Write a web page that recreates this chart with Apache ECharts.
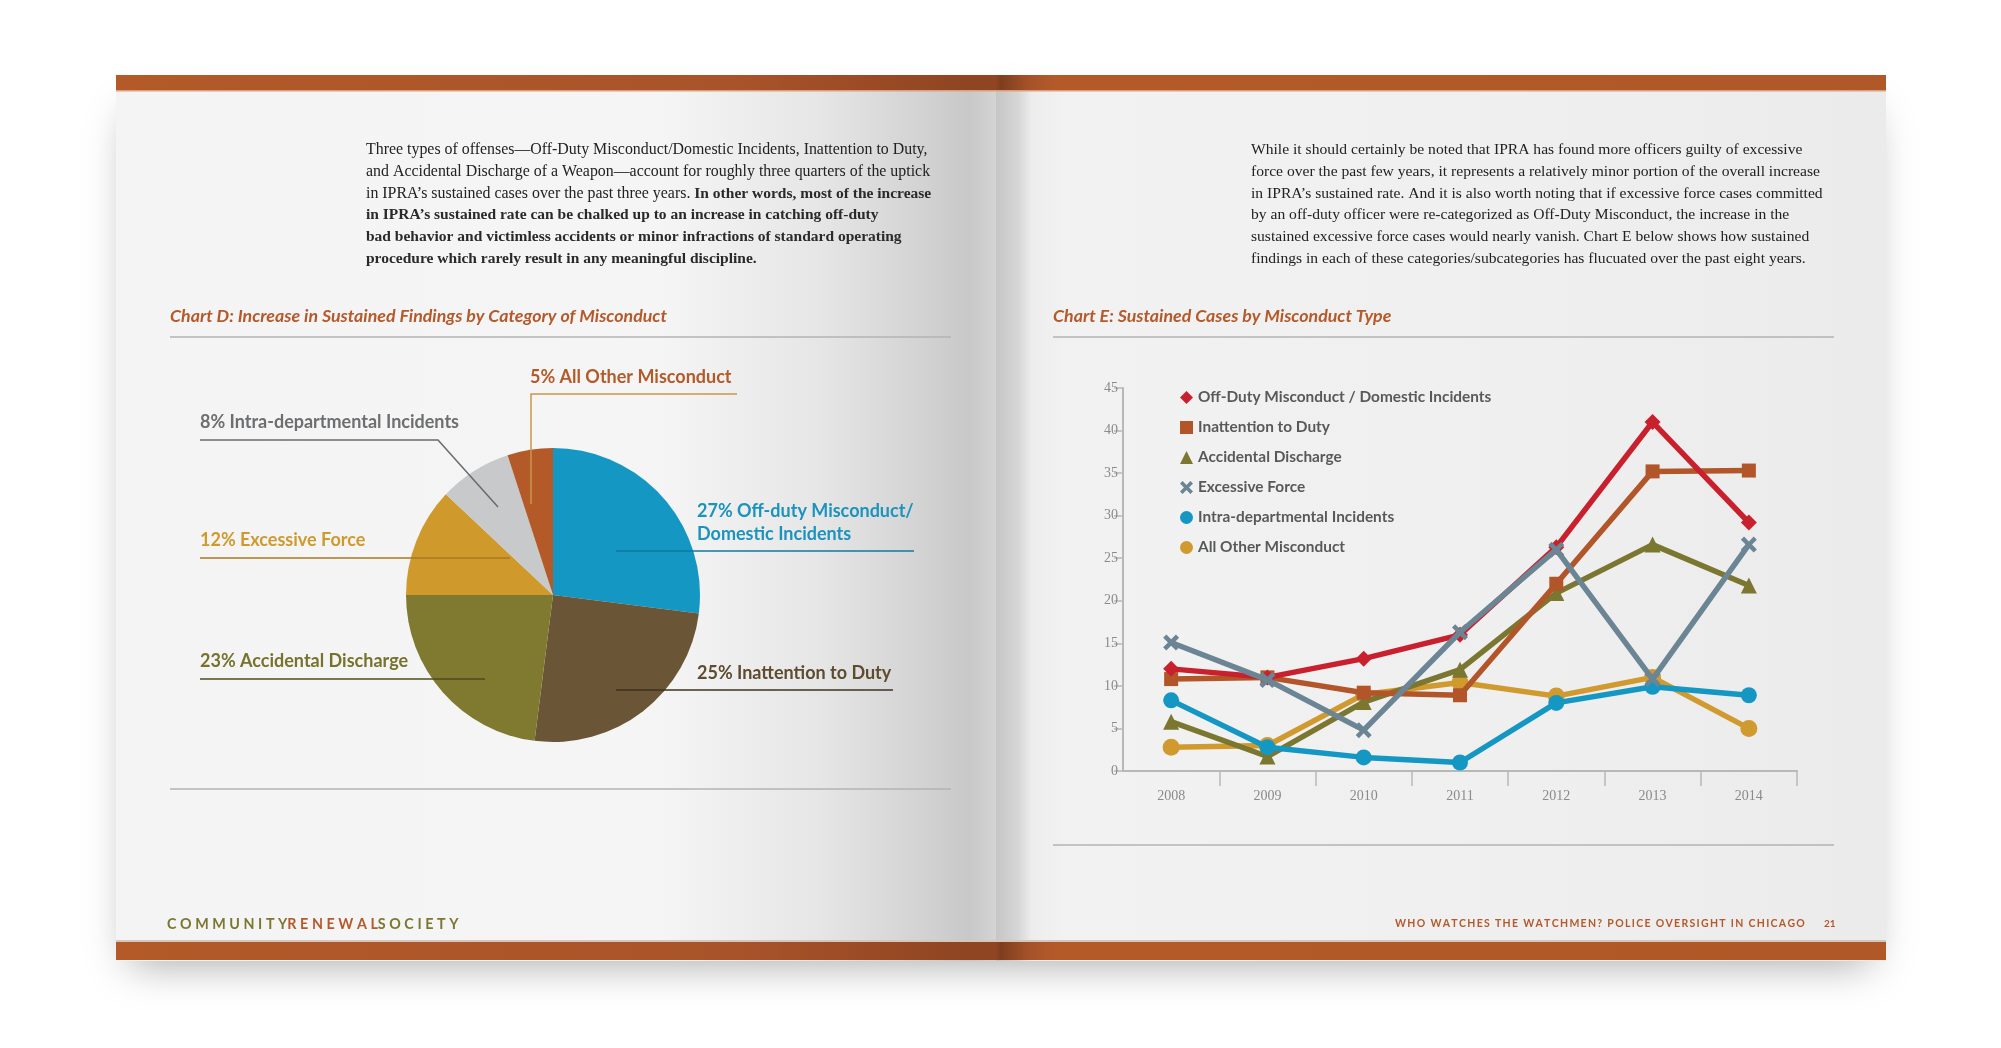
<!DOCTYPE html>
<html>
<head>
<meta charset="utf-8">
<script src="https://cdn.jsdelivr.net/npm/echarts@6/dist/echarts.min.js"></script>
<style>
html,body{margin:0;padding:0;background:#fff;}
#c{width:2001px;height:1048px;}
</style>
</head>
<body>
<div id="c"></div>
<script>
// ---------- DATA ----------
const pieNames = ['Off-duty Misconduct/\nDomestic Incidents', 'Inattention to Duty', 'Accidental Discharge', 'Excessive Force', 'Intra-departmental Incidents', 'All Other Misconduct'];
const pieValues = [27, 25, 23, 12, 8, 5];

const years = ['2008', '2009', '2010', '2011', '2012', '2013', '2014'];
const offDuty = [12, 11, 13.2, 16, 26.3, 41, 29.2];
const inattention = [10.8, 11, 9.2, 8.9, 22, 35.2, 35.3];
const accidental = [5.8, 1.7, 8.1, 11.9, 20.9, 26.6, 21.8];
const excessive = [15.1, 10.7, 4.8, 16.3, 26, 10.8, 26.6];
const intra = [8.3, 2.8, 1.6, 1, 8, 9.9, 8.9];
const allOther = [2.8, 3, 9, 10.4, 8.8, 11, 5];

const lineNames = ['Off-Duty Misconduct / Domestic Incidents', 'Inattention to Duty', 'Accidental Discharge', 'Excessive Force', 'Intra-departmental Incidents', 'All Other Misconduct'];

const leftText = [
  [['n', 'Three types of offenses\u2014Off-Duty Misconduct/Domestic Incidents, Inattention to Duty,']],
  [['n', 'and Accidental Discharge of a Weapon\u2014account for roughly three quarters of the uptick']],
  [['n', 'in IPRA\u2019s sustained cases over the past three years. '], ['b', 'In other words, most of the increase']],
  [['b', 'in IPRA\u2019s sustained rate can be chalked up to an increase in catching off-duty']],
  [['b', 'bad behavior and victimless accidents or minor infractions of standard operating']],
  [['b', 'procedure which rarely result in any meaningful discipline.']]
];
const rightText = [
  'While it should certainly be noted that IPRA has found more officers guilty of excessive',
  'force over the past few years, it represents a relatively minor portion of the overall increase',
  'in IPRA\u2019s sustained rate. And it is also worth noting that if excessive force cases committed',
  'by an off-duty officer were re-categorized as Off-Duty Misconduct, the increase in the',
  'sustained excessive force cases would nearly vanish. Chart E below shows how sustained',
  'findings in each of these categories/subcategories has flucuated over the past eight years.'
];

// ---------- STYLE / LAYOUT ----------
const pieColors = ['#1597c3', '#6a5536', '#7f7a30', '#cf9a2b', '#c8c9ca', '#b35a28'];
const pieLabelColors = ['#1a93bf', '#5e4b30', '#77722c', '#cf9a2b', '#6d6e70', '#b35a28'];
const pieLineColors = ['#10799d', '#3e311f', '#4f4b1c', '#a87a1e', '#6a6a6a', '#c9974a'];
// label anchor (left, bottom) and leader points for each slice
const pieLabelLayout = [
  {x: 697, y: 546, pts: [[616, 551], [765, 551], [914, 551]]},
  {x: 697, y: 685, pts: [[616, 690], [750, 690], [893, 690]]},
  {x: 200, y: 673, pts: [[485, 679], [340, 679], [200, 679]]},
  {x: 200, y: 552, pts: [[510, 558], [355, 558], [200, 558]]},
  {x: 200, y: 434, pts: [[498, 507], [438, 440], [200, 440]]},
  {x: 530, y: 389, pts: [[531, 504], [531, 394], [737, 394]]}
];
const lineColors = ['#c9202e', '#b2562a', '#7b7630', '#6c8594', '#1597c3', '#d09a2e'];
const xPath = 'path://M2,0 L5,3 L8,0 L10,2 L7,5 L10,8 L8,10 L5,7 L2,10 L0,8 L3,5 L0,2 Z';
const lineSymbols = ['diamond', 'rect', 'triangle', xPath, 'circle', 'circle'];
const lineSymbolSizes = [16, 14, 16, 16, 16, 17];
const lineZ = [5, 4, 3, 7, 6, 2];
const lineData = [offDuty, inattention, accidental, excessive, intra, allOther];

const serif = '"Liberation Serif", "DejaVu Serif", serif';
const sans = 'Lato, "Open Sans", sans-serif';

function spaced(s) { return s.split('').join('\u2009\u2009'); }

const chart = echarts.init(document.getElementById('c'), null, {renderer: 'canvas'});

const graphics = [];
// book shadow
graphics.push({type: 'rect', z: -20, shape: {x: 130, y: 100, width: 1740, height: 850},
  style: {fill: '#f2f2f2', shadowBlur: 40, shadowColor: 'rgba(0,0,0,0.35)', shadowOffsetY: 14}});
// left page
graphics.push({type: 'rect', z: -10, shape: {x: 116, y: 75, width: 880, height: 886},
  style: {fill: new echarts.graphic.LinearGradient(0, 0, 1, 0, [
    {offset: 0, color: '#f4f4f4'}, {offset: 0.62, color: '#f5f5f5'}, {offset: 0.8, color: '#e6e6e6'},
    {offset: 0.92, color: '#d2d2d2'}, {offset: 0.97, color: '#c8c8c8'}, {offset: 1, color: '#d4d4d4'}])}});
// right page
graphics.push({type: 'rect', z: -10, shape: {x: 996, y: 75, width: 890, height: 886},
  style: {fill: new echarts.graphic.LinearGradient(0, 0, 1, 0, [
    {offset: 0, color: '#c6c6c6'}, {offset: 0.025, color: '#d6d6d6'}, {offset: 0.04, color: '#ededed'},
    {offset: 0.08, color: '#f2f2f2'}, {offset: 0.6, color: '#efefef'}, {offset: 1, color: '#ebebeb'}])}});
// top & bottom bars
const barGrad = () => new echarts.graphic.LinearGradient(0, 0, 1, 0, [
  {offset: 0, color: '#b35a28'}, {offset: 0.35, color: '#a9532a'}, {offset: 0.48, color: '#8f4522'},
  {offset: 0.497, color: '#8f4522'}, {offset: 0.5, color: '#7d3e1f'}, {offset: 0.515, color: '#a4512a'},
  {offset: 0.53, color: '#b35a28'}, {offset: 1, color: '#b05827'}]);
graphics.push({type: 'rect', z: -5, shape: {x: 116, y: 75, width: 1770, height: 15}, style: {fill: barGrad()}});
graphics.push({type: 'rect', z: -5, shape: {x: 116, y: 90, width: 1770, height: 1.5}, style: {fill: '#d9a080'}});
graphics.push({type: 'rect', z: -5, shape: {x: 116, y: 940, width: 1770, height: 2}, style: {fill: '#d8c6bd'}});
graphics.push({type: 'rect', z: -5, shape: {x: 116, y: 942, width: 1770, height: 18}, style: {fill: barGrad()}});

// body text
leftText.forEach((segs, i) => {
  graphics.push({type: 'text', z: 1, x: 366, y: 150 + i * 21.8,
    style: {text: segs.map(s => '{' + s[0] + '|' + s[1] + '}').join(''), verticalAlign: 'middle',
      rich: {n: {fontFamily: serif, fontSize: 15.9, fill: '#222'}, b: {fontFamily: serif, fontSize: 15.5, fill: '#2a2a2a', fontWeight: 'bold'}}}});
});
rightText.forEach((t, i) => {
  graphics.push({type: 'text', z: 1, x: 1251, y: 150 + i * 21.8,
    style: {text: t, fontFamily: serif, fontSize: 15.6, fill: '#222', verticalAlign: 'middle'}});
});

// chart titles and rules
graphics.push({type: 'text', z: 1, x: 170, y: 316, style: {text: 'Chart D: Increase in Sustained Findings by Category of Misconduct',
  fontFamily: sans, fontSize: 17.8, fontStyle: 'italic', fontWeight: 'bold', fill: '#b5592a', verticalAlign: 'middle'}});
graphics.push({type: 'text', z: 1, x: 1053, y: 316, style: {text: 'Chart E: Sustained Cases by Misconduct Type',
  fontFamily: sans, fontSize: 17.8, fontStyle: 'italic', fontWeight: 'bold', fill: '#b5592a', verticalAlign: 'middle'}});
[[170, 951, 337], [170, 951, 789], [1053, 1834, 337], [1053, 1834, 845]].forEach(l => {
  graphics.push({type: 'line', z: 1, shape: {x1: l[0], y1: l[2], x2: l[1], y2: l[2]}, style: {stroke: '#b3b3b3', lineWidth: 1.5}});
});

// footers
graphics.push({type: 'text', z: 1, x: 167, y: 924, style: {
  text: '{o|' + spaced('COMMUNITY') + '}{r|' + spaced('RENEWAL') + '}{o|' + spaced('SOCIETY') + '}',
  verticalAlign: 'middle',
  rich: {o: {fontFamily: sans, fontSize: 14.3, fontWeight: 'bold', fill: '#7b7630'},
         r: {fontFamily: sans, fontSize: 14.3, fontWeight: 'bold', fill: '#b5592a'}}}});
graphics.push({type: 'text', z: 1, x: 1395, y: 924, style: {
  text: 'WHO WATCHES THE WATCHMEN? POLICE OVERSIGHT IN CHICAGO'.split('').join('\u2009'),
  fontFamily: sans, fontSize: 10.5, fontWeight: 'bold', fill: '#b5592a', verticalAlign: 'middle'}});
graphics.push({type: 'text', z: 1, x: 1824, y: 924, style: {text: '21',
  fontFamily: sans, fontSize: 10, fontWeight: 'bold', fill: '#b5592a', verticalAlign: 'middle'}});

const pieBase = {
  type: 'pie', center: [553, 595], radius: 147, startAngle: 90, clockwise: true,
  avoidLabelOverlap: false, silent: true, emphasis: {disabled: true}
};

const option = {
  animation: false,
  backgroundColor: '#ffffff',
  graphic: {elements: graphics},
  legend: {
    orient: 'vertical', left: 1175, top: 385, itemGap: 15, itemWidth: 13, itemHeight: 13,
    selectedMode: false,
    textStyle: {fontFamily: sans, fontSize: 15.4, fontWeight: 'bold', color: '#58595b'},
    data: lineNames.map((n, i) => ({name: n, icon: lineSymbols[i]}))
  },
  grid: {left: 1123, top: 388, width: 674, height: 383, containLabel: false},
  xAxis: {
    type: 'category', data: years, boundaryGap: true,
    axisLine: {lineStyle: {color: '#b8b8b8', width: 2}},
    axisTick: {show: true, length: 15, lineStyle: {color: '#b8b8b8', width: 1.5},
      interval: function (idx) { return idx !== 0; }},
    axisLabel: {fontFamily: serif, fontSize: 14, color: '#8a8a8a', margin: 18}
  },
  yAxis: {
    type: 'value', min: 0, max: 45, interval: 5,
    axisLine: {show: true, lineStyle: {color: '#b8b8b8', width: 2}},
    axisTick: {show: true, length: 9, lineStyle: {color: '#b8b8b8', width: 1.5}},
    axisLabel: {fontFamily: serif, fontSize: 14, color: '#8a8a8a', margin: 5},
    splitLine: {show: false}
  },
  series: [
    // visible slices
    Object.assign({}, pieBase, {
      z: 2,
      label: {show: false}, labelLine: {show: false},
      itemStyle: {borderWidth: 0},
      data: pieNames.map((n, i) => ({name: n, value: pieValues[i], itemStyle: {color: pieColors[i]}}))
    }),
    // transparent overlay carrying labels and leader lines above the slices
    Object.assign({}, pieBase, {
      z: 3,
      itemStyle: {color: 'rgba(0,0,0,0)', borderWidth: 0},
      label: {show: true, position: 'outside', fontFamily: sans, fontSize: 18, fontWeight: 'bold', lineHeight: 23,
        formatter: p => p.percent.toFixed(0) + '% ' + p.name},
      labelLine: {show: true, showAbove: true, lineStyle: {width: 1.5}},
      labelLayout: function (params) {
        const L = pieLabelLayout[params.dataIndex];
        return {x: L.x, y: L.y, align: 'left', verticalAlign: 'bottom', labelLinePoints: L.pts};
      },
      data: pieNames.map((n, i) => ({
        name: n, value: pieValues[i],
        label: {color: pieLabelColors[i]},
        labelLine: {lineStyle: {color: pieLineColors[i]}}
      }))
    })
  ].concat(lineNames.map((n, i) => ({
    type: 'line', name: n, data: lineData[i], z: lineZ[i],
    symbol: lineSymbols[i], symbolSize: lineSymbolSizes[i], showAllSymbol: true,
    lineStyle: {color: lineColors[i], width: 5.5},
    itemStyle: {color: lineColors[i]},
    emphasis: {disabled: true}, silent: true
  })))
};
chart.setOption(option);
</script>
</body>
</html>
